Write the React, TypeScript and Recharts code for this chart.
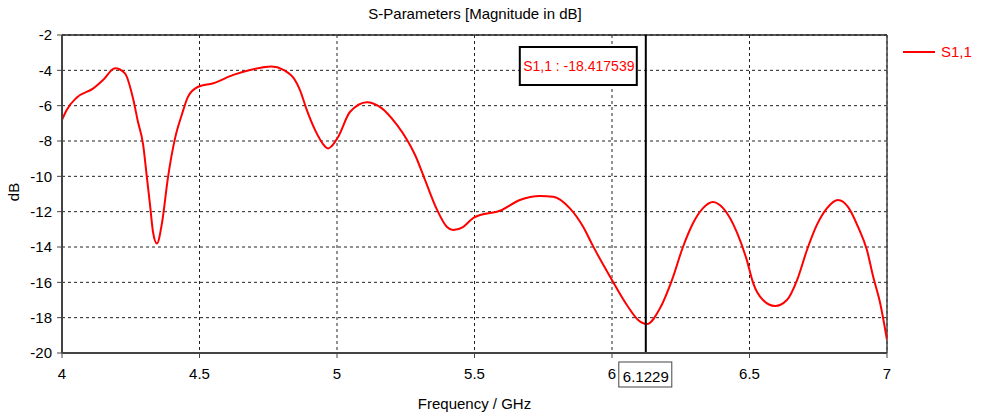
import React from 'react';
import {
  CartesianGrid,
  Label,
  Line,
  LineChart,
  ReferenceLine,
  XAxis,
  YAxis,
} from 'recharts';

// S1,1 magnitude
const freqGHz = [
  4.0, 4.017, 4.053, 4.114, 4.149, 4.193, 4.229, 4.258, 4.276, 4.295, 4.309, 4.32,
  4.331, 4.345, 4.364, 4.385, 4.411, 4.436, 4.458, 4.495, 4.55, 4.623, 4.684, 4.762,
  4.805, 4.847, 4.865, 4.89, 4.92, 4.956, 4.968, 4.98, 5.004, 5.047, 5.109, 5.156, 5.218,
  5.255, 5.284, 5.32, 5.364, 5.4, 5.422, 5.458, 5.495, 5.52, 5.593, 5.665, 5.738,
  5.786, 5.847, 5.895, 5.932, 5.993, 6.054, 6.095, 6.127, 6.175, 6.218, 6.258, 6.295,
  6.331, 6.367, 6.404, 6.455, 6.49, 6.513, 6.549, 6.593, 6.636, 6.673, 6.709, 6.745,
  6.782, 6.822, 6.858, 6.895, 6.927, 6.95, 6.975, 7.0,
];
const s11dB = [
  -6.8, -6.24, -5.55, -5.02, -4.55, -3.88, -4.17, -5.57, -6.9, -8.2, -10.1, -11.6,
  -13.15, -13.8, -12.6, -10.1, -7.85, -6.5, -5.5, -4.93, -4.73, -4.26, -3.98, -3.79,
  -3.98, -4.55, -5.1, -6.24, -7.37, -8.3, -8.42, -8.3, -7.77, -6.36, -5.8, -6.07, -7.09,
  -7.94, -8.79, -10.2, -11.9, -12.87, -13.04, -12.87, -12.36, -12.19, -11.95, -11.34, -11.11,
  -11.15, -11.81, -12.85, -13.98, -15.68, -17.28, -18.13, -18.36, -17.45, -15.87, -14.0, -12.64,
  -11.8, -11.45, -11.8, -13.2, -14.73, -16.03, -17.0, -17.34, -17.0, -15.87, -14.17, -12.75,
  -11.8, -11.34, -11.73, -12.87, -14.17, -15.7, -17.17, -19.26,
];
const xTicks = [4, 4.5, 5, 5.5, 6, 6.5, 7];
const yTicks = [-2, -4, -6, -8, -10, -12, -14, -16, -18, -20];
const markerFreq = 6.1229;
const markerText = 'S1,1 : -18.417539';

const data = freqGHz.map((f, i) => ({ f, s11: s11dB[i] }));

const FONT = '"Liberation Sans", Arial, sans-serif';
const tickStyle = { fill: '#000', fontSize: 15, fontFamily: FONT };

function MarkerLabel(props: any) {
  const vb = props.viewBox || {};
  const x = vb.x ?? 0;
  const top = vb.y ?? 0;
  const bottom = top + (vb.height ?? 0);
  return (
    <g>
      <rect x={x - 126} y={top + 12} width={117} height={38} fill="#fff" stroke="#000" strokeWidth={2} />
      <text x={x - 67} y={top + 36} textAnchor="middle" fill="#ff0000" fontSize={14} fontFamily={FONT}>
        {markerText}
      </text>
      <rect x={x - 27} y={bottom + 9} width={53} height={25} fill="#fff" stroke="#444" strokeWidth={1} />
      <text x={x} y={bottom + 29} textAnchor="middle" fill="#000" fontSize={15} fontFamily={FONT}>
        {markerFreq}
      </text>
    </g>
  );
}

export default function App() {
  return (
    <div style={{ position: 'absolute', left: 0, top: 0, width: 994, height: 416, background: '#fff', fontFamily: FONT }}>
      <div style={{ position: 'absolute', left: 0, width: 950, top: 5, textAlign: 'center', fontSize: 15, color: '#000' }}>
        S-Parameters [Magnitude in dB]
      </div>
      <div style={{ position: 'absolute', left: 903, top: 43, display: 'flex', alignItems: 'center', color: '#ff0000', fontSize: 15 }}>
        <span style={{ display: 'inline-block', width: 32, height: 2, background: '#ff0000', marginRight: 6 }} />
        S1,1
      </div>
      <LineChart width={994} height={416} data={data} margin={{ top: 35, right: 107, bottom: 0, left: 0 }}>
        <CartesianGrid stroke="#222" strokeDasharray="3 3" />
        <XAxis
          dataKey="f"
          type="number"
          domain={[4, 7]}
          ticks={xTicks}
          allowDataOverflow
          height={63}
          tick={tickStyle}
          tickSize={5}
          tickMargin={10}
          axisLine={{ stroke: '#444', strokeWidth: 2 }}
          tickLine={{ stroke: '#444' }}
        >
          <Label value="Frequency / GHz" position="insideBottom" offset={7} style={{ fill: '#000', fontSize: 15, fontFamily: FONT }} />
        </XAxis>
        <YAxis
          type="number"
          domain={[-20, -2]}
          ticks={yTicks}
          allowDataOverflow
          width={62}
          tick={tickStyle}
          tickSize={5}
          tickMargin={5}
          axisLine={{ stroke: '#444', strokeWidth: 2 }}
          tickLine={{ stroke: '#444' }}
        >
          <Label
            content={({ viewBox }: any) => {
              const cy = (viewBox?.y ?? 0) + (viewBox?.height ?? 0) / 2 - 2;
              return (
                <text x={19} y={cy} transform={`rotate(-90, 19, ${cy})`} textAnchor="middle" fill="#000" fontSize={15} fontFamily={FONT}>
                  dB
                </text>
              );
            }}
          />
        </YAxis>
        <ReferenceLine y={-2} stroke="#222" strokeWidth={1.5} />
        <ReferenceLine x={7} stroke="#444" strokeWidth={1.5} />
        <Line
          dataKey="s11"
          type="monotone"
          stroke="#ff0000"
          strokeWidth={2}
          dot={false}
          isAnimationActive={false}
        />
        <ReferenceLine x={markerFreq} stroke="#000" strokeWidth={2} label={<MarkerLabel />} />
      </LineChart>
    </div>
  );
}
